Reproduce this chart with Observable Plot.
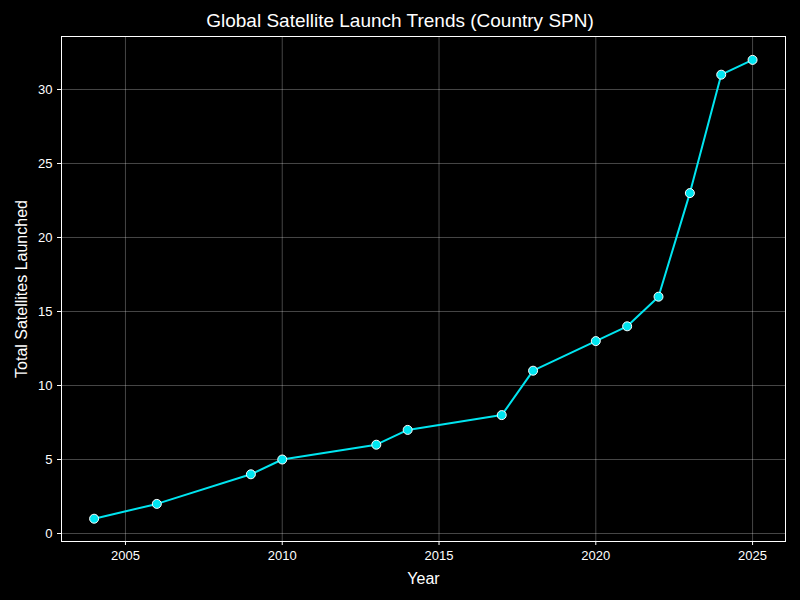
<!DOCTYPE html>
<html>
<head>
<meta charset="utf-8">
<script src="https://cdn.jsdelivr.net/npm/d3@7"></script>
<script src="https://cdn.jsdelivr.net/npm/@observablehq/plot@0.6"></script>
<style>
  body { margin: 0; background: #000; font-family: "Liberation Sans", Arial, sans-serif; }
  #title { height: 36px; line-height: 42px; text-align: center; color: #fff; font-size: 19px; }
  #chart g[aria-label="x-axis label"] text, #chart g[aria-label="y-axis label"] text { font-size: 16px; }
</style>
</head>
<body>
<div id="title">Global Satellite Launch Trends (Country SPN)</div>
<div id="chart"></div>
<script>
// launch totals per year
const years = [2004, 2006, 2009, 2010, 2013, 2014, 2017, 2018, 2020, 2021, 2022, 2023, 2024, 2025];
const totals = [1, 2, 4, 5, 6, 7, 8, 11, 13, 14, 16, 23, 31, 32];
const xTicks = [2005, 2010, 2015, 2020, 2025];
const yTicks = [0, 5, 10, 15, 20, 25, 30];

const rows = years.map((y, i) => ({year: y, total: totals[i]}));

const chart = Plot.plot({
    width: 800,
    height: 564,
    marginTop: 0,
    marginLeft: 61,
    marginRight: 15,
    marginBottom: 59,
    style: { background: "#000", color: "#fff", fontSize: "13px", fontFamily: "Liberation Sans, Arial, sans-serif" },
    x: { domain: [2002.96, 2026.05] },
    y: { domain: [-0.54, 33.58] },
    marks: [
        Plot.gridX(xTicks, { stroke: "#fff", strokeOpacity: 0.35, strokeWidth: 0.8 }),
        Plot.gridY(yTicks, { stroke: "#fff", strokeOpacity: 0.35, strokeWidth: 0.8 }),
        Plot.axisX(xTicks, { tickFormat: d => String(d), tickSize: 4, label: "Year", labelAnchor: "center", labelArrow: "none", labelOffset: 42 }),
        Plot.axisY(yTicks, { tickSize: 4, label: "Total Satellites Launched", labelAnchor: "center", labelArrow: "none", labelOffset: 46 }),
        Plot.frame({ stroke: "#fff" }),
        Plot.line(rows, { x: "year", y: "total", stroke: "#00e5f0", strokeWidth: 2 }),
        Plot.dot(rows, { x: "year", y: "total", r: 4.5, fill: "#00e5f0", stroke: "#fff", strokeWidth: 1 })
    ]
});
document.getElementById("chart").append(chart);
</script>
</body>
</html>
